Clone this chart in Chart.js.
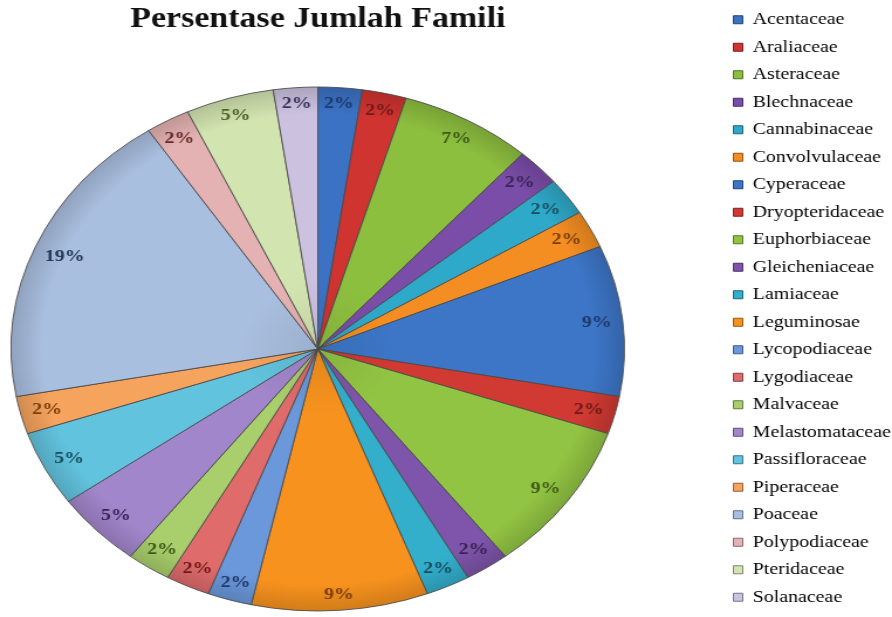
<!DOCTYPE html>
<html>
<head>
<meta charset="utf-8">
<title>Persentase Jumlah Famili</title>
<script src="https://cdn.jsdelivr.net/npm/chart.js@4.4.1/dist/chart.umd.min.js"></script>
<style>
    html, body { margin: 0; padding: 0; background: #fff; overflow: hidden; }
    /* gambar asli melebar horizontal, jadi kanvas ditarik sedikit */
    #wadah {
        position: absolute; left: 0; top: 0;
        width: 844px; height: 617px;
        transform: scaleX(1.1706) translateX(-73px);
        transform-origin: 0 0;
    }
</style>
</head>
<body>
<div id="wadah"><canvas id="grafikFamili"></canvas></div>
<script>
const famili = [
    'Acentaceae', 'Araliaceae', 'Asteraceae', 'Blechnaceae', 'Cannabinaceae',
    'Convolvulaceae', 'Cyperaceae', 'Dryopteridaceae', 'Euphorbiaceae', 'Gleicheniaceae',
    'Lamiaceae', 'Leguminosae', 'Lycopodiaceae', 'Lygodiaceae', 'Malvaceae',
    'Melastomataceae', 'Passifloraceae', 'Piperaceae', 'Poaceae', 'Polypodiaceae',
    'Pteridaceae', 'Solanaceae'
];
// jumlah spesies per famili (total 43)
const jumlah = [1, 1, 3, 1, 1, 1, 4, 1, 4, 1, 1, 4, 1, 1, 1, 2, 2, 1, 8, 1, 2, 1];

const warna = [
    '#3B72C4', '#CF3430', '#8DBF3F', '#7A4DA8', '#2FA9C9', '#F58E22',
    '#3D76C7', '#D03A32', '#92C443', '#7E55AA', '#33AECB', '#F7921E',
    '#6A98DA', '#E06B6B', '#A9CE6C', '#A286CC', '#62C3DE', '#F6A35E',
    '#A9BFDF', '#E4B2B2', '#D2E4B0', '#CCC2E0'
];
const warnaLabel = [
    '#1E3A6E', '#6E1A18', '#3F5A18', '#3A2458', '#174F60', '#7A400C',
    '#1E3A6E', '#6E1A18', '#3F5A18', '#3A2458', '#174F60', '#7A400C',
    '#1E3A6E', '#6E1A18', '#3F5A18', '#3A2458', '#174F60', '#7A400C',
    '#26385C', '#6A2A2A', '#4A6428', '#3A3460'
];

function gelap(hex, f) {
    const n = parseInt(hex.slice(1), 16);
    const r = Math.round(((n >> 16) & 255) * f);
    const g = Math.round(((n >> 8) & 255) * f);
    const b = Math.round((n & 255) * f);
    return 'rgb(' + r + ',' + g + ',' + b + ')';
}

const RADIUS = 262;

function isiIrisan(c) {
    const area = c.chart.chartArea;
    const dasar = warna[c.dataIndex];
    if (!area) return dasar;
    const cx = (area.left + area.right) / 2;
    const cy = (area.top + area.bottom) / 2;
    const grad = c.chart.ctx.createRadialGradient(cx, cy, 0, cx, cy, RADIUS);
    grad.addColorStop(0, gelap(dasar, 0.92));
    grad.addColorStop(0.25, dasar);
    grad.addColorStop(0.9, dasar);
    grad.addColorStop(1, gelap(dasar, 0.85));
    return grad;
}

const total = jumlah.reduce((a, b) => a + b, 0);

// label persen di ujung dalam irisan
const labelPersen = {
    id: 'labelPersen',
    afterDatasetsDraw(chart) {
        const ctx = chart.ctx;
        const meta = chart.getDatasetMeta(0);
        ctx.save();
        ctx.font = 'bold 17px "Liberation Serif"';
        ctx.textAlign = 'center';
        ctx.textBaseline = 'middle';
        meta.data.forEach((arc, i) => {
            const p = arc.getProps(['x', 'y', 'startAngle', 'endAngle', 'outerRadius'], true);
            const tengah = (p.startAngle + p.endAngle) / 2;
            const teks = Math.round(jumlah[i] / total * 100) + '%';
            const w = ctx.measureText(teks).width;
            const cos = Math.cos(tengah), sin = Math.sin(tengah);
            const r = p.outerRadius - 9 - Math.abs(cos) * w / 2 - Math.abs(sin) * 6;
            ctx.fillStyle = warnaLabel[i];
            ctx.fillText(teks, p.x + cos * r, p.y + sin * r);
        });
        ctx.restore();
    }
};

const ctx = document.getElementById('grafikFamili').getContext('2d');

new Chart(ctx, {
    type: 'pie',
    data: {
        labels: famili,
        datasets: [{
            data: jumlah,
            backgroundColor: isiIrisan,
            borderColor: 'rgba(70,70,70,0.85)',
            borderWidth: 1,
            radius: RADIUS
        }]
    },
    options: {
        responsive: true,
        maintainAspectRatio: false,
        animation: false,
        layout: { padding: 0 },
        plugins: {
            title: {
                display: true,
                text: 'Persentase Jumlah Famili',
                fullSize: false,
                color: '#111',
                font: { family: '"Liberation Serif"', size: 29, weight: 'bold' },
                padding: { top: 2.6, bottom: 43.6 }
            },
            legend: {
                position: 'right',
                labels: {
                    boxWidth: 8,
                    boxHeight: 8,
                    padding: 10.5,
                    color: '#3a3a3a',
                    font: { family: '"Liberation Serif"', size: 17 },
                    generateLabels: () => famili.map((nama, i) => ({
                        text: nama,
                        fillStyle: warna[i],
                        strokeStyle: gelap(warna[i], 0.6),
                        lineWidth: 1,
                        hidden: false,
                        index: i
                    }))
                }
            },
            tooltip: { enabled: false }
        }
    },
    plugins: [labelPersen]
});
</script>
</body>
</html>
